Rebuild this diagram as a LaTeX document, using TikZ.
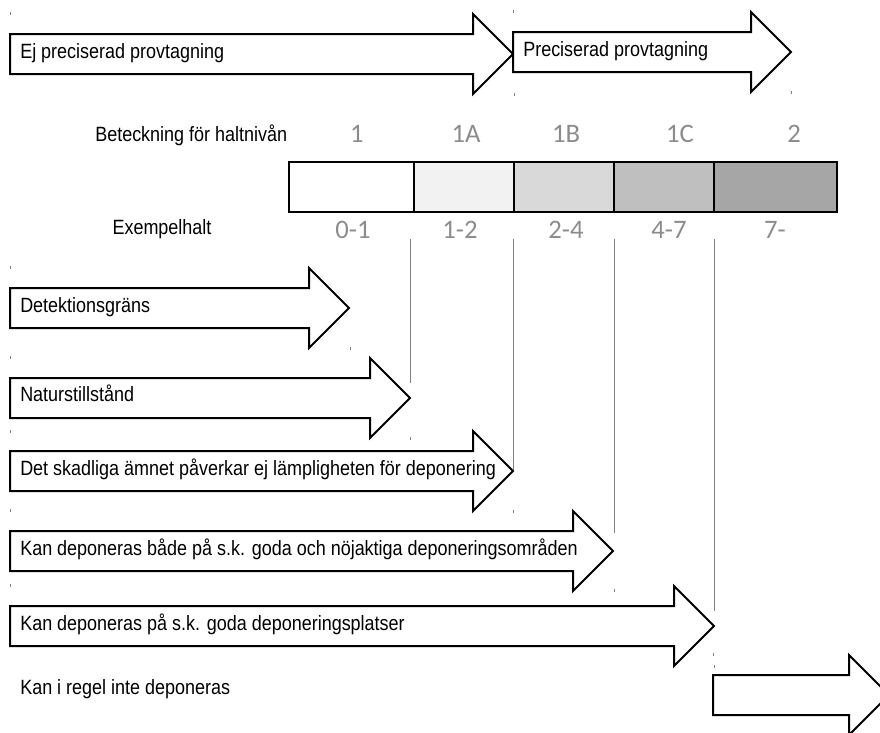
\documentclass[tikz,border=0pt]{standalone}
\usepackage{fontspec}
\setmainfont{Liberation Sans}
\newfontfamily\narrowfont[FakeStretch=0.87]{Liberation Sans}
\newfontfamily\levelfont{Carlito}

\definecolor{lvlgray}{HTML}{8C8C8C}
\definecolor{shadeA}{HTML}{F2F2F2}
\definecolor{shadeB}{HTML}{D9D9D9}
\definecolor{shadeC}{HTML}{BFBFBF}
\definecolor{shadeD}{HTML}{A6A6A6}

\tikzset{
  blockarrow/.style={draw=black,line width=1.5pt,fill=white,line join=miter,miter limit=10},
  arrowtext/.style={anchor=west,inner sep=0,text height=1.6ex,text depth=.4ex,
    font=\narrowfont\fontsize{15.5}{18}\selectfont},
  leveltext/.style={inner sep=0,text=lvlgray,text height=1.5ex,text depth=.2ex,
    font=\levelfont\fontsize{20}{24}\selectfont},
  cell/.style={draw=black,line width=1.5pt},
  guide/.style={draw=gray,line width=0.7pt},
  bbmark/.style={draw=gray,line width=0.6pt},
}

% block arrow: name, left x, head base x, centre y
\newcommand{\bigarrow}[4]{%
  \draw[blockarrow] (#2,#4-20) -- (#3,#4-20) -- (#3,#4-40) -- (#3+40,#4)
    -- (#3,#4+40) -- (#3,#4+20) -- (#2,#4+20) -- cycle;
  \coordinate (#1) at (#3+40,#4);}

\begin{document}
\begin{tikzpicture}[x=0.75pt,y=-0.75pt]
  \clip (0,0) rectangle (880,732);

  % Sampling
  \bigarrow{ejtip}{10}{473}{54}
  \bigarrow{prtip}{513}{751}{52}
  \node[arrowtext] (ejprec) at (20,54) {Ej preciserad provtagning};
  \node[arrowtext] (prec) at (523,52) {Preciserad provtagning};

  % Level bar
  \node[arrowtext] (beteck) at (95,137) {Beteckning för haltnivån};
  \node[arrowtext,anchor=center] (exempel) at (162,230) {Exempelhalt};
  \foreach \xa/\xb/\col [count=\i] in {289/414/white,414/514/shadeA,514/614/shadeB,614/714/shadeC,714/837/shadeD}
    \draw[cell,fill=\col] (\xa,162) rectangle (\xb,212);
  \foreach \x/\lev [count=\i] in {357/1,466/1A,566/1B,680/1C,794/2}
    \node[leveltext] (lev\i) at (\x,138) {\lev};
  \foreach \x/\halt [count=\i] in {353/0-1,460/1-2,566/2-4,669/4-7,775/7-}
    \node[leveltext] (halt\i) at (\x,234) {\halt};

  % Guides down to the arrows
  \foreach \x/\yb in {410/383,513/470,614/533,714/611}
    \draw[guide] (\x,239) -- (\x,\yb);

  % Classes
  \bigarrow{dettip}{10}{309}{308}
  \bigarrow{nattip}{10}{370}{398}
  \bigarrow{skatip}{10}{473}{471}
  \bigarrow{bodtip}{10}{573}{551}
  \bigarrow{godtip}{10}{674}{626}
  \bigarrow{intip}{713}{849}{695}
  \node[arrowtext] (detek) at (20,308) {Detektionsgräns};
  \node[arrowtext] (natur) at (20,397) {Naturstillstånd};
  \node[arrowtext] (skadl) at (20,471) {Det skadliga ämnet påverkar ej lämpligheten för deponering};
  \node[arrowtext] (bada) at (20,551) {Kan deponeras både på s.k. goda och nöjaktiga deponeringsområden};
  \node[arrowtext] (goda) at (20,626) {Kan deponeras på s.k. goda deponeringsplatser};
  \node[arrowtext] (inte) at (20,690) {Kan i regel inte deponeras};

  % corner marks
  \foreach \x/\y in {10/12,514/93,513/10,791/91,10/266,350/347,10/356,410/437,10/430,513/510,
                     10/509,614/589,10/584,714/665,713/653}
    \draw[bbmark] (\x,\y) -- ++(0,3);
\end{tikzpicture}
\end{document}
